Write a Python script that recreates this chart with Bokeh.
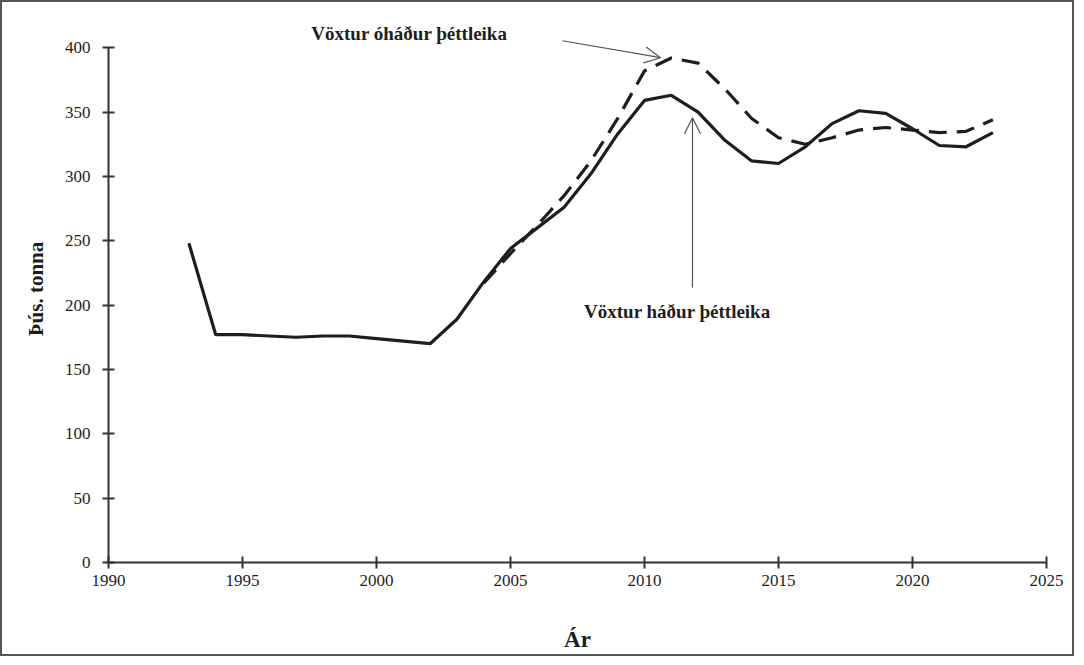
from bokeh.plotting import figure
from bokeh.embed import file_html
from bokeh.resources import INLINE
from bokeh.models import Arrow, OpenHead, Label, FixedTicker, Range1d
from bokeh.core.properties import value

# ---- data ----
years_solid = list(range(1993, 2024))
solid_vals = [248, 177, 177, 176, 175, 176, 176, 174, 172, 170, 189, 218, 244, 260, 276,
              302, 333, 359, 363, 350, 328, 312, 310, 323, 341, 351, 349, 337, 324, 323, 334]
years_dash = list(range(2004, 2024))
dash_vals = [217, 240, 262, 285, 312, 345, 382, 392, 388, 368, 345, 330, 325, 330, 336,
             338, 336, 334, 335, 344]
x_ticks = [1990, 1995, 2000, 2005, 2010, 2015, 2020, 2025]
y_ticks = [0, 50, 100, 150, 200, 250, 300, 350, 400]
label_upper = "Vöxtur óháður þéttleika"
label_lower = "Vöxtur háður þéttleika"

SERIF = "Liberation Serif"
INK = "#1e1e1e"

p = figure(width=1074, height=656, output_backend="svg", toolbar_location=None,
           x_range=Range1d(1990, 2025), y_range=Range1d(0, 425),
           min_border_left=106, min_border_right=30, min_border_top=13, min_border_bottom=96)
p.styles = {"border": "2px solid #555", "box-sizing": "border-box"}
p.outline_line_color = None
p.grid.grid_line_color = None
p.background_fill_color = "white"
p.border_fill_color = "white"

for ax in (p.xaxis[0], p.yaxis[0]):
    ax.axis_line_color = "#333"
    ax.axis_line_width = 2
    ax.major_tick_line_color = "#333"
    ax.major_tick_line_width = 2
    ax.major_tick_in = 6
    ax.major_tick_out = 6
    ax.minor_tick_line_color = None
    ax.major_label_text_font = SERIF
    ax.major_label_text_font_size = "17px"
    ax.major_label_text_color = INK
    ax.axis_label_text_font = SERIF
    ax.axis_label_text_font_style = "bold"
    ax.axis_label_text_color = INK

p.yaxis.bounds = (0, 400)
p.xaxis.ticker = FixedTicker(ticks=x_ticks)
p.yaxis.ticker = FixedTicker(ticks=y_ticks)
p.xaxis.major_label_standoff = 6
p.yaxis.major_label_standoff = 12
p.xaxis.axis_label = "Ár"
p.xaxis.axis_label_text_font_size = "23px"
p.xaxis.axis_label_standoff = 38
p.yaxis.axis_label = "Þús. tonna"
p.yaxis.axis_label_text_font_size = "21px"
p.yaxis.axis_label_standoff = 14

p.line(years_dash, dash_vals, line_color=INK, line_width=3.2, line_dash="18 10")
p.line(years_solid, solid_vals, line_color=INK, line_width=3.2)

p.add_layout(Label(x=2001.23, y=411, text=label_upper, text_font=SERIF,
                   text_font_style="bold", text_font_size="19px", text_color=INK,
                   text_align="center", text_baseline="middle"))
p.add_layout(Label(x=2011.23, y=195, text=label_lower, text_font=SERIF,
                   text_font_style="bold", text_font_size="19px", text_color=INK,
                   text_align="center", text_baseline="middle"))

p.add_layout(Arrow(x_start=2006.94, y_start=405.4, x_end=2010.6, y_end=392.2,
                   line_color="#555", line_width=1.2,
                   end=OpenHead(size=16, line_color="#555", line_width=1.2)))
p.add_layout(Arrow(x_start=2011.79, y_start=213.6, x_end=2011.79, y_end=345.6,
                   line_color="#555", line_width=1.2,
                   end=OpenHead(size=16, line_color="#555", line_width=1.2)))

open("out.html", "w").write(file_html(p, INLINE))
